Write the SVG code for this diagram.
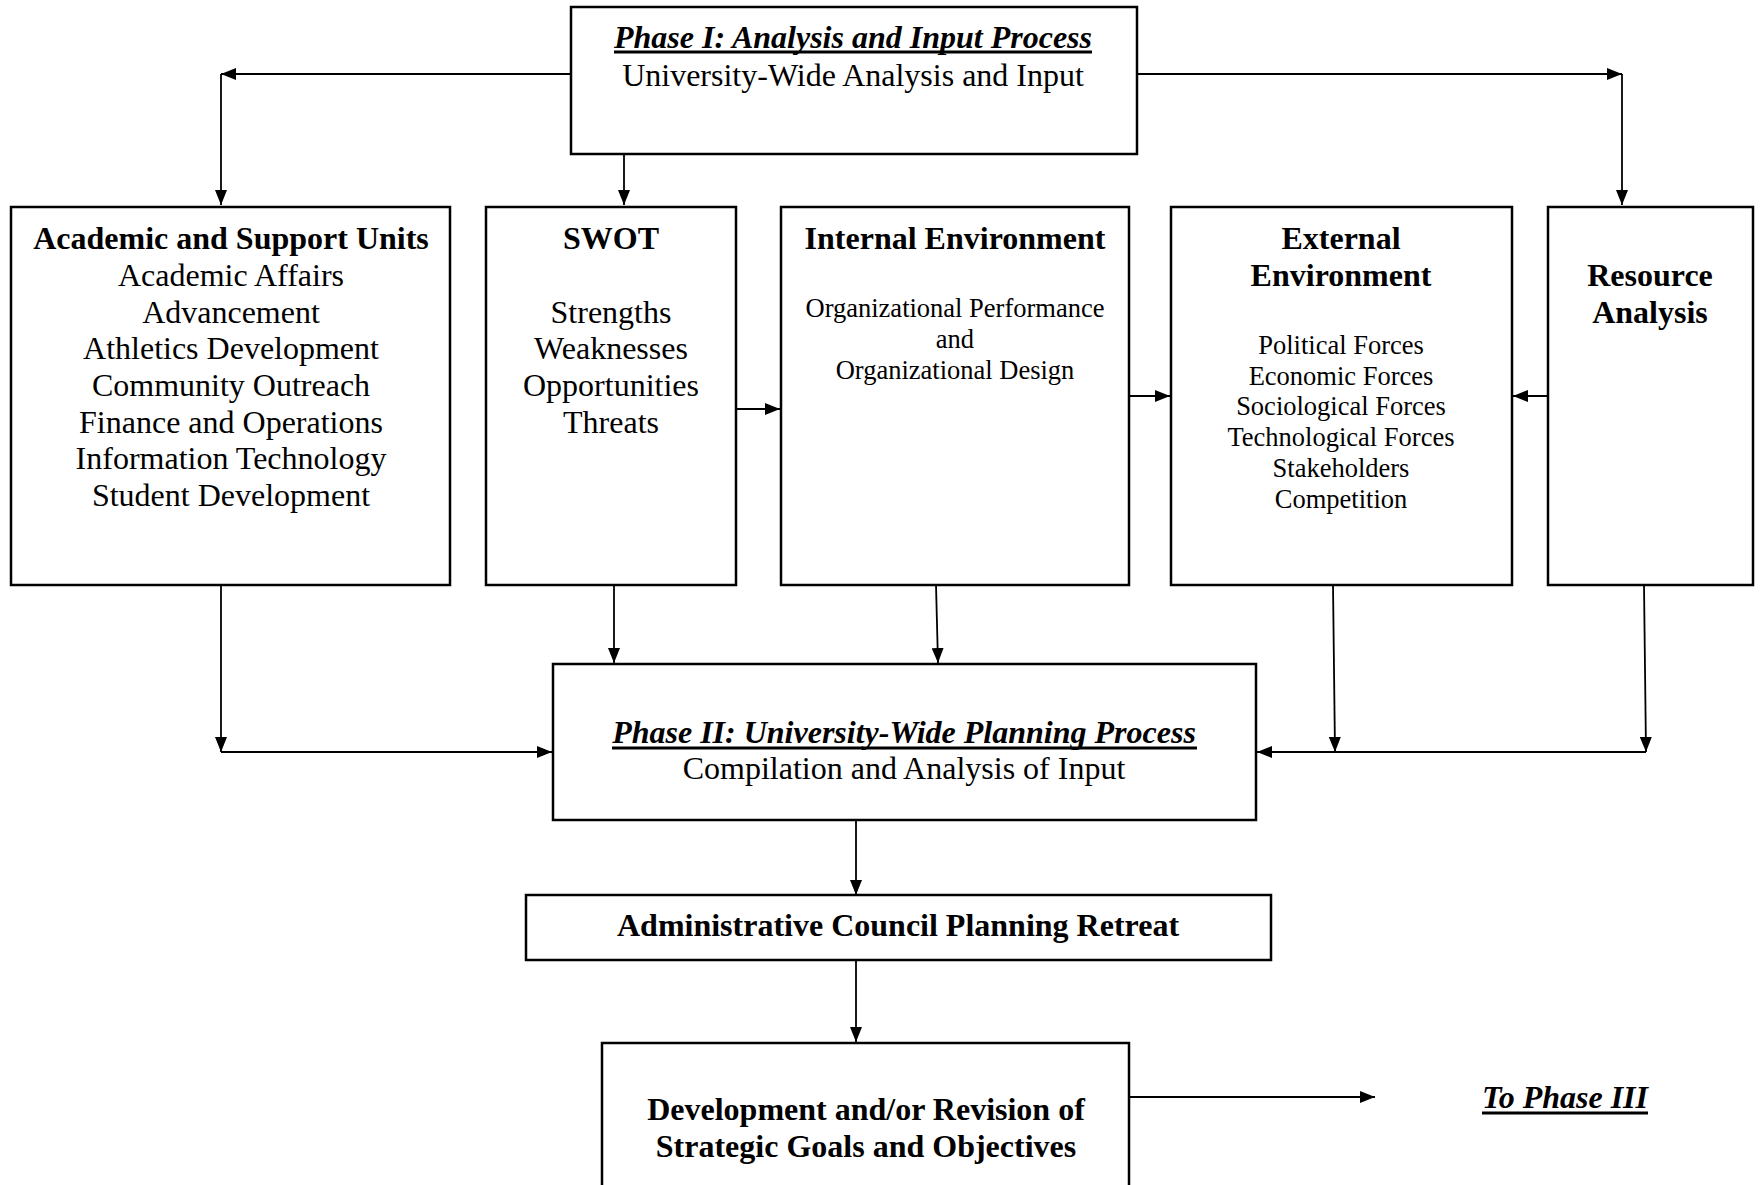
<svg xmlns="http://www.w3.org/2000/svg" width="1760" height="1185" viewBox="0 0 1760 1185">
<style>
text{font-family:"Liberation Serif","Times New Roman",serif;fill:#000;text-anchor:middle}
.t{font-size:32px}
.b{font-size:32px;font-weight:bold}
.bi{font-size:32px;font-weight:bold;font-style:italic}
.s{font-size:26.5px}
.box{fill:#fff;stroke:#000;stroke-width:2.5}
.c{fill:none;stroke:#000;stroke-width:1.8}
.u{stroke:#000;stroke-width:3}
</style>
<defs>
<marker id="ah" viewBox="0 0 15 12" refX="15" refY="6" markerWidth="15" markerHeight="12" markerUnits="userSpaceOnUse" orient="auto"><path d="M0,0 L15,6 L0,12 z" fill="#000"/></marker>
</defs>
<rect width="1760" height="1185" fill="#fff"/>
<g id="connectors">
<path class="c" d="M571,74 H221" marker-end="url(#ah)"/>
<path class="c" d="M221,74 V205" marker-end="url(#ah)"/>
<path class="c" d="M1137,74 H1622" marker-end="url(#ah)"/>
<path class="c" d="M1622,74 V205" marker-end="url(#ah)"/>
<path class="c" d="M624,154 V205" marker-end="url(#ah)"/>
<path class="c" d="M736,409 H780" marker-end="url(#ah)"/>
<path class="c" d="M1129,396 H1170" marker-end="url(#ah)"/>
<path class="c" d="M1548,396 H1513" marker-end="url(#ah)"/>
<path class="c" d="M221,585 V752" marker-end="url(#ah)"/>
<path class="c" d="M221,752 H552" marker-end="url(#ah)"/>
<path class="c" d="M614,585 V663" marker-end="url(#ah)"/>
<path class="c" d="M936,585 L938,663" marker-end="url(#ah)"/>
<path class="c" d="M1333,585 L1335,752" marker-end="url(#ah)"/>
<path class="c" d="M1644,585 L1646,752" marker-end="url(#ah)"/>
<path class="c" d="M1646,752 H1257" marker-end="url(#ah)"/>
<path class="c" d="M856,820 V895" marker-end="url(#ah)"/>
<path class="c" d="M856,960 V1042" marker-end="url(#ah)"/>
<path class="c" d="M1129,1097 H1375" marker-end="url(#ah)"/>
</g>
<g id="phase1">
<rect class="box" x="571" y="7" width="566" height="147"/>
<text class="bi" x="853" y="48">Phase I: Analysis and Input Process</text>
<line class="u" x1="614" y1="52" x2="1092" y2="52"/>
<text class="t" x="853" y="86">University-Wide Analysis and Input</text>
</g>
<g id="academic">
<rect class="box" x="11" y="207" width="439" height="378"/>
<text class="b" x="231" y="249">Academic and Support Units</text>
<text class="t" x="231" y="286">Academic Affairs</text>
<text class="t" x="231" y="322.7">Advancement</text>
<text class="t" x="231" y="359.3">Athletics Development</text>
<text class="t" x="231" y="396">Community Outreach</text>
<text class="t" x="231" y="432.7">Finance and Operations</text>
<text class="t" x="231" y="469.3">Information Technology</text>
<text class="t" x="231" y="506">Student Development</text>
</g>
<g id="swot">
<rect class="box" x="486" y="207" width="250" height="378"/>
<text class="b" x="611" y="249">SWOT</text>
<text class="t" x="611" y="322.7">Strengths</text>
<text class="t" x="611" y="359.3">Weaknesses</text>
<text class="t" x="611" y="396">Opportunities</text>
<text class="t" x="611" y="432.7">Threats</text>
</g>
<g id="internal">
<rect class="box" x="781" y="207" width="348" height="378"/>
<text class="b" x="955" y="249">Internal Environment</text>
<text class="s" x="955" y="316.5">Organizational Performance</text>
<text class="s" x="955" y="348">and</text>
<text class="s" x="955" y="378.5">Organizational Design</text>
</g>
<g id="external">
<rect class="box" x="1171" y="207" width="341" height="378"/>
<text class="b" x="1341" y="249">External</text>
<text class="b" x="1341" y="286">Environment</text>
<text class="s" x="1341" y="354">Political Forces</text>
<text class="s" x="1341" y="384.7">Economic Forces</text>
<text class="s" x="1341" y="415.4">Sociological Forces</text>
<text class="s" x="1341" y="446.1">Technological Forces</text>
<text class="s" x="1341" y="476.8">Stakeholders</text>
<text class="s" x="1341" y="507.5">Competition</text>
</g>
<g id="resource">
<rect class="box" x="1548" y="207" width="205" height="378"/>
<text class="b" x="1650" y="286">Resource</text>
<text class="b" x="1650" y="322.7">Analysis</text>
</g>
<g id="phase2">
<rect class="box" x="553" y="664" width="703" height="156"/>
<text class="bi" x="904" y="743">Phase II: University-Wide Planning Process</text>
<line class="u" x1="612" y1="748" x2="1197" y2="748"/>
<text class="t" x="904" y="779">Compilation and Analysis of Input</text>
</g>
<g id="retreat">
<rect class="box" x="526" y="895" width="745" height="65"/>
<text class="b" x="898" y="936">Administrative Council Planning Retreat</text>
</g>
<g id="development">
<rect class="box" x="602" y="1043" width="527" height="160"/>
<text class="b" x="866" y="1120">Development and/or Revision of</text>
<text class="b" x="866" y="1157">Strategic Goals and Objectives</text>
</g>
<g id="phase3">
<text class="bi" x="1565" y="1108">To Phase III</text>
<line class="u" x1="1482" y1="1113" x2="1648" y2="1113"/>
</g>
</svg>
